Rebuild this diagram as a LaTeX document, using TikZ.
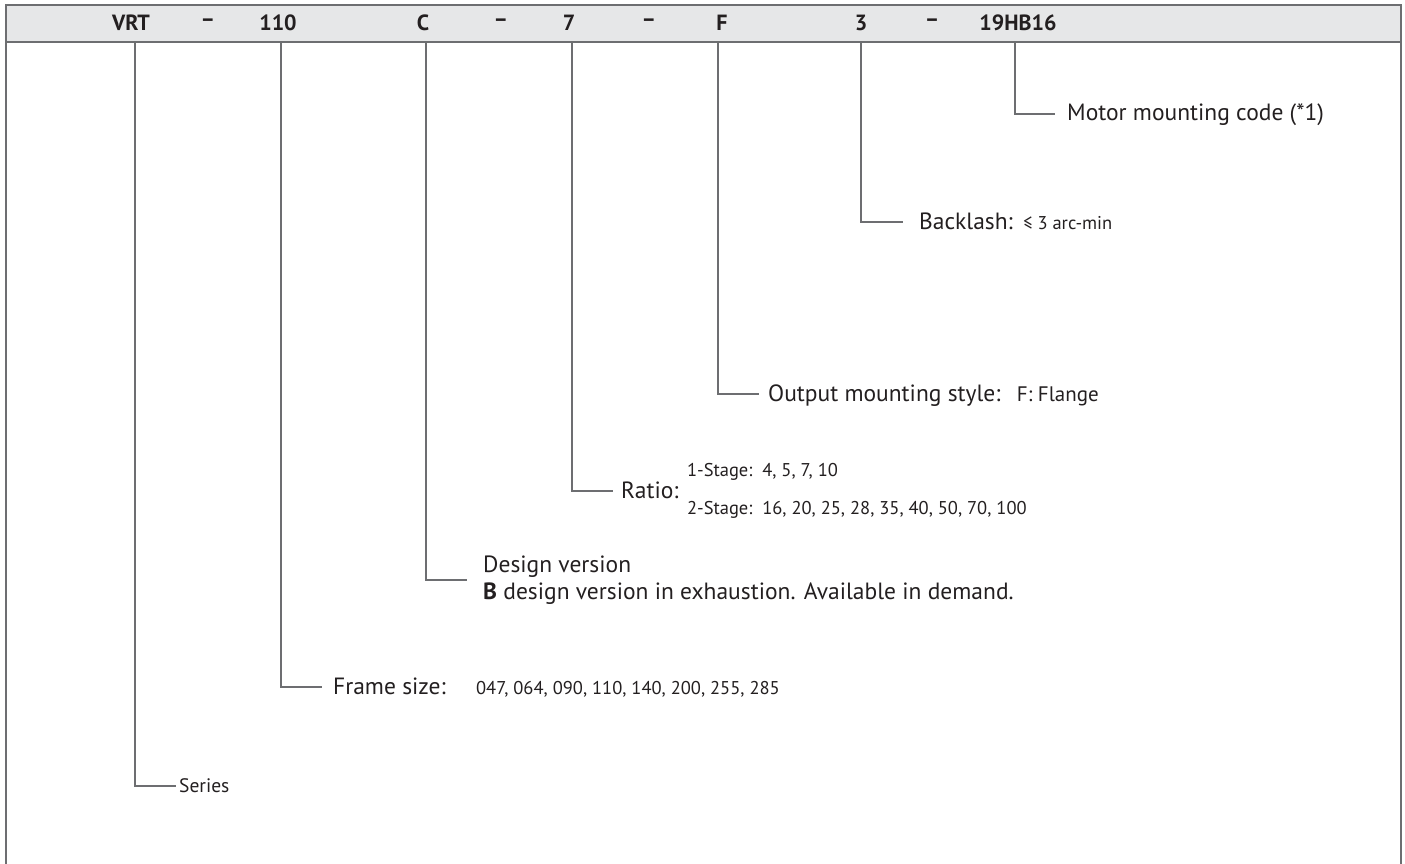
\documentclass[tikz,border=0pt]{standalone}
\usepackage{fontspec}
\setmainfont{PT Sans}
\definecolor{linegray}{HTML}{6D6E71}
\definecolor{headgray}{HTML}{E6E7E8}
\definecolor{txt}{HTML}{231F20}
\begin{document}
\begin{tikzpicture}[x=1pt,y=-1pt,
  frame/.style={draw=linegray, line width=2pt},
  leader/.style={draw=linegray, line width=1.5pt},
  code/.style={font=\fontsize{22}{24}\selectfont\bfseries, text=txt, inner sep=0},
  lbl/.style={font=\fontsize{23.5}{26}\selectfont, text=txt, anchor=base west, inner sep=0},
  val/.style={font=\fontsize{18.5}{22}\selectfont, text=txt, anchor=base west, inner sep=0}]
\useasboundingbox (0,0) rectangle (1405,864);

% header band and outer frame
\fill[headgray] (6,5) rectangle (1401,42);
\draw[frame] (6,864) -- (6,5) -- (1401,5) -- (1401,864);
\draw[frame] (6,42) -- (1401,42);

% type code
\node[code] (cSeries) at (131,23) {VRT};
\node[code] (d1) at (208,23) {–};
\node[code] (cFrame) at (278,23) {110};
\node[code] (cDesign) at (423,23) {C};
\node[code] (d2) at (501,23) {–};
\node[code] (cRatio) at (569,23) {7};
\node[code] (d3) at (649,23) {–};
\node[code] (cOut) at (722,23) {F};
\node[code] (cBack) at (861,23) {3};
\node[code] (d4) at (932,23) {–};
\node[code] (cMotor) at (1018,23) {19HB16};

% tops of the leader lines
\coordinate (tSeries) at (135,42);
\coordinate (tFrame) at (281,42);
\coordinate (tDesign) at (426,42);
\coordinate (tRatio) at (572,42);
\coordinate (tOut) at (718,42);
\coordinate (tBack) at (861,42);
\coordinate (tMotor) at (1015,42);

% explanations
\node[lbl] (lMotor) at (1067,121) {Motor mounting code (*1)};
\node[lbl] (lBack) at (919,229) {Backlash:};
\node[val] (vBack) at ([xshift=10pt]lBack.base east) {≤ 3 arc-min};
\node[lbl] (lOut) at (768,401) {Output mounting style:};
\node[lbl, font=\fontsize{21}{24}\selectfont] (vOut) at ([xshift=16pt]lOut.base east) {F: Flange};
\node[lbl] (lRatio) at (621,498) {Ratio:};
\node[val] (vRatio1) at ([shift={(8pt,22pt)}]lRatio.base east) {1-Stage:\ \ 4, 5, 7, 10};
\node[val] (vRatio2) at ([shift={(8pt,-16pt)}]lRatio.base east) {2-Stage:\ \ 16, 20, 25, 28, 35, 40, 50, 70, 100};
\node[lbl] (lDesign) at (483,572) {Design version};
\node[lbl] (lDesign2) at (483,599) {\textbf{B} design version in exhaustion. Available in demand.};
\node[lbl] (lFrame) at (333,694) {Frame size:};
\node[val] (vFrame) at ([xshift=30pt]lFrame.base east) {047, 064, 090, 110, 140, 200, 255, 285};
\node[lbl, font=\fontsize{19.5}{22}\selectfont] (lSeries) at (179,792) {Series};

% leader lines
\draw[leader] (tMotor) |- ([shift={(-12pt,7pt)}]lMotor.base west);
\draw[leader] (tBack) |- ([shift={(-16pt,7pt)}]lBack.base west);
\draw[leader] (tOut) |- ([shift={(-9pt,7pt)}]lOut.base west);
\draw[leader] (tRatio) |- ([shift={(-8pt,7pt)}]lRatio.base west);
\draw[leader] (tDesign) |- ([shift={(-16pt,-8pt)}]lDesign.base west);
\draw[leader] (tFrame) |- ([shift={(-11pt,7pt)}]lFrame.base west);
\draw[leader] (tSeries) |- ([shift={(-3pt,6pt)}]lSeries.base west);
\end{tikzpicture}
\end{document}
